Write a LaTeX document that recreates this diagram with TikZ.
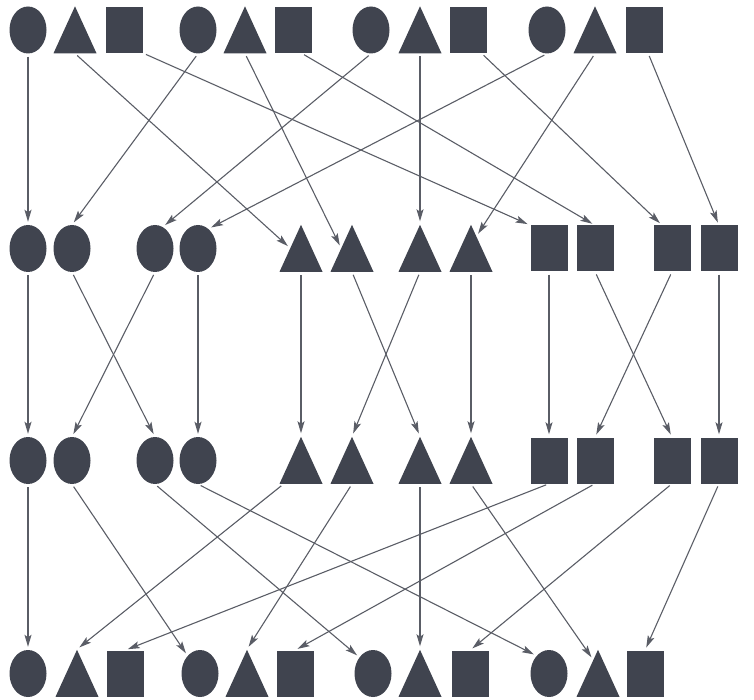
\documentclass[tikz,border=0pt]{standalone}
\usepackage{tikz}
\usetikzlibrary{shapes.geometric, arrows.meta, positioning, calc}

\begin{document}
\begin{tikzpicture}[x=1pt, y=-1pt,
  forma/.style={fill=chumbo, draw=none, inner sep=0pt},
  circulo/.style={forma, ellipse, minimum width=37pt, minimum height=47pt},
  triangulo/.style={forma, isosceles triangle, shape border rotate=90, isosceles triangle stretches, minimum width=43pt, minimum height=47pt, anchor=lower side},
  quadrado/.style={forma, rectangle, minimum width=37pt, minimum height=46pt},
  seta/.style={draw=linha, line width=1.1pt, -{Stealth[length=12pt, width=7pt, inset=2.5pt]}, shorten <=3pt, shorten >=3pt}]
% --- FORMAS EM 4 LINHAS, SETAS ENTRE ELAS ---
\definecolor{chumbo}{HTML}{40444F}
\definecolor{linha}{HTML}{5A5D66}
\useasboundingbox (0,0) rectangle (754,700);

% LAYER 1: Linha de cima (circulo, triangulo, quadrado)
\foreach \n/\xo/\xt/\xq in {1/28/75/124.5, 2/198/245/293.5, 3/371/420/468, 4/547/595/644} {
  \node[circulo] (L1o\n) at (\xo,30) {};
  \node[triangulo] (L1t\n) at (\xt,53.5) {};
  \node[quadrado] (L1q\n) at (\xq,30) {};
}

% LAYER 2: Segunda e terceira linhas (formas agrupadas)
\foreach \r/\y in {2/248.5, 3/460.5} {
  \foreach \n/\xo/\xt/\xq in {1/28/301/549, 2/72/352/595, 3/155/420/672, 4/198/471/719} {
    \node[circulo] (L\r o\n) at (\xo,\y) {};
    \node[triangulo] (L\r t\n) at (\xt,\y+23.5) {};
    \node[quadrado] (L\r q\n) at (\xq,\y) {};
  }
}

% LAYER 3: Linha de baixo
\foreach \n/\xo/\xt/\xq in {1/28/77/125, 2/200/247/295, 3/373/420/470, 4/549/598/645} {
  \node[circulo] (L4o\n) at (\xo,673.5) {};
  \node[triangulo] (L4t\n) at (\xt,697) {};
  \node[quadrado] (L4q\n) at (\xq,673.5) {};
}

% LAYER 4: Setas da linha 1 para a linha 2
\foreach \a/\p/\b/\q in {L1o1/south/L2o1/north, L1t1/south/L2t1/left side, L1q1/south east/L2q1/north west,
    L1o2/south/L2o2/north, L1t2/south/L2t2/left side, L1q2/-71/L2q2/north,
    L1o3/south/L2o3/70, L1t3/south/L2t3/north, L1q3/-60/L2q3/113,
    L1o4/south/L2o4/62, L1q4/-80/L2q4/north}
  \draw[seta] (\a.\p) -- (\b.\q);
\draw[seta] (L1t4.lower side) -- ($(L2t4.apex)!.25!(L2t4.right corner)$);

% LAYER 5: Setas da linha 2 para a linha 3 (troca do meio)
\foreach \k in {o, t, q}
  \foreach \i/\j in {1/1, 2/3, 3/2, 4/4}
    \draw[seta] (L2\k\i.south) -- (L3\k\j.north);

% LAYER 6: Setas da linha 3 para a linha 4
\foreach \a/\p/\b/\q in {L3o1/south/L4o1/north, L3o2/south/L4o2/125, L3o3/south/L4o3/130, L3o4/south/L4o4/125,
    L3t2/south/L4t2/north, L3t3/south/L4t3/north,
    L3q1/south/L4q1/north, L3q2/south/L4q2/north, L3q3/south/L4q3/north, L3q4/south/L4q4/north}
  \draw[seta] (\a.\p) -- (\b.\q);
\draw[seta] ($(L3t1.lower side)!.8!(L3t1.left corner)$) -- (L4t1.north);
\draw[seta] (L3t4.lower side) -- ($(L4t4.apex)!.22!(L4t4.left corner)$);
\end{tikzpicture}
\end{document}
